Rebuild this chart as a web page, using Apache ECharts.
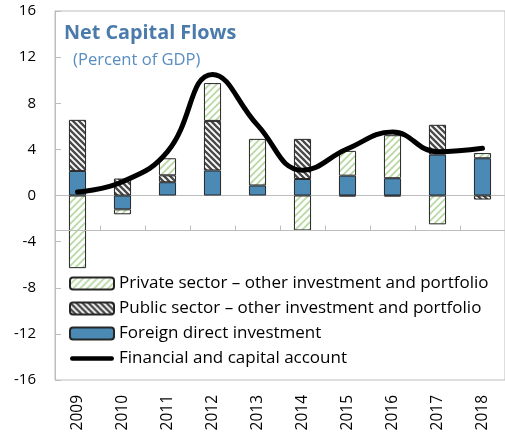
<!DOCTYPE html>
<html><head><meta charset="utf-8">
<script src="https://cdn.jsdelivr.net/npm/echarts@6/dist/echarts.min.js"></script>
<style>html,body{margin:0;padding:0;background:#fff}#c{width:505px;height:436px}</style>
</head><body><div id="c"></div>
<script>
const years = ['2009','2010','2011','2012','2013','2014','2015','2016','2017','2018'];
const fdi = [2.13, -1.2, 1.15, 2.17, 0.87, 1.43, 1.72, 1.5, 3.55, 3.23];
const publicSector = [4.43, 1.47, 0.6, 4.3, 0, 3.48, -0.08, -0.08, 2.58, -0.35];
const privateSector = [-6.3, -0.43, 1.48, 3.28, 4.04, -3.03, 2.15, 3.73, -2.5, 0.45];
const financialAccount = [0.3, 1.2, 3.8, 10.5, 6.1, 2.2, 4.05, 5.5, 3.8, 4.1];
const yTicks = {min: -16, max: 16, step: 4};
const axisCrossValue = -3;
const names = ['Private sector – other investment and portfolio','Public sector – other investment and portfolio','Foreign direct investment','Financial and capital account'];

function stripes(bg, fg, dir, lw, s) {
  const c = document.createElement('canvas'); c.width = s; c.height = s;
  const x = c.getContext('2d');
  x.fillStyle = bg; x.fillRect(0,0,s,s);
  x.strokeStyle = fg; x.lineWidth = lw; x.lineCap = 'square';
  x.beginPath();
  for (let k = -1; k <= 1; k++) {
    if (dir === '/') { x.moveTo(k*s, s); x.lineTo(k*s + s, 0); }
    else { x.moveTo(k*s, 0); x.lineTo(k*s + s, s); }
  }
  x.stroke();
  return {image: c, repeat: 'repeat'};
}
const greenPat = stripes('#ffffff', '#b9d9a5', '/', 1.8, 7);
const blackPat = stripes('#ffffff', '#4a4a4a', '\\', 2.4, 6);
const nz = a => a.map(v => v === 0 ? null : v);
const font = '"Open Sans", sans-serif';
const axisGray = '#bdbdbd';

const chart = echarts.init(document.getElementById('c'), null, {renderer: 'canvas'});
chart.setOption({
  animation: false,
  backgroundColor: '#fff',
  title: [
    {text: 'Net Capital Flows', left: 59, top: 18, textStyle: {fontFamily: font, fontSize: 19.8, fontWeight: 'bold', color: '#4a7bab'}},
    {text: '(Percent of GDP)', left: 68, top: 47, textStyle: {fontFamily: font, fontSize: 16.6, fontWeight: 'normal', color: '#5a8dc0'}}
  ],
  grid: {left: 55, right: -3, top: 11, bottom: 56, show: true, borderColor: axisGray, borderWidth: 1, containLabel: false},
  legend: {
    orient: 'vertical', left: 64, top: 267, itemWidth: 44, itemHeight: 12, itemGap: 2,
    data: [
      {name: names[0]}, {name: names[1]}, {name: names[2]},
      {name: names[3], icon: 'path://M5,0H95A5,5,0,0,1,95,10H5A5,5,0,0,1,5,0Z'}
    ],
    textStyle: {fontFamily: font, fontSize: 17, color: '#000', lineHeight: 23}, selectedMode: false
  },
  xAxis: {type: 'category', data: years, position: 'bottom',
     axisLine: {show: true, lineStyle: {color: axisGray}}, axisTick: {show: false},
     axisLabel: {rotate: 90, margin: 15, fontFamily: font, fontSize: 15.5, color: '#000'}},
  yAxis: {type: 'value', min: yTicks.min, max: yTicks.max, interval: yTicks.step,
     axisLine: {show: true, lineStyle: {color: axisGray}},
     axisTick: {show: true, inside: true, length: 6, lineStyle: {color: axisGray}},
     splitLine: {show: false},
     axisLabel: {margin: 19, fontFamily: font, fontSize: 15, color: '#000'}},
  series: [
    {name: names[2], type: 'bar', stack: 'a', data: nz(fdi), barWidth: '38%',
     itemStyle: {color: '#4a8ab5', borderColor: '#262626', borderWidth: 1},
     markLine: {silent: true, symbol: 'none', z: 6, label: {show: false},
       lineStyle: {color: axisGray, type: 'solid', width: 1},
       data: [{yAxis: axisCrossValue}]}},
    {name: names[1], type: 'bar', stack: 'a', data: nz(publicSector), barWidth: '38%',
     itemStyle: {color: blackPat, borderColor: '#262626', borderWidth: 1}},
    {name: names[0], type: 'bar', stack: 'a', data: nz(privateSector), barWidth: '38%',
     itemStyle: {color: greenPat, borderColor: '#262626', borderWidth: 1}},
    {type: 'custom', z: 6, silent: true, data: years.map((y, i) => [i, axisCrossValue]),
     renderItem: function (params, api) {
       const i = api.value(0);
       const p = api.coord([i, api.value(1)]);
       const w = api.size([1, 0])[0];
       const yy = Math.round(p[1]) + 0.5;
       const xr = Math.round(p[0] + w / 2) + 0.5;
       return {type: 'line', shape: {x1: xr, y1: yy, x2: xr, y2: yy - 5}, style: {stroke: axisGray, lineWidth: 1}};
     }},
    {name: names[3], type: 'line', data: financialAccount, smooth: 0.45, symbol: 'none', showSymbol: false, z: 10,
     lineStyle: {color: '#000', width: 5, cap: 'round'}, itemStyle: {color: '#000'}}
  ]
});
</script></body></html>
